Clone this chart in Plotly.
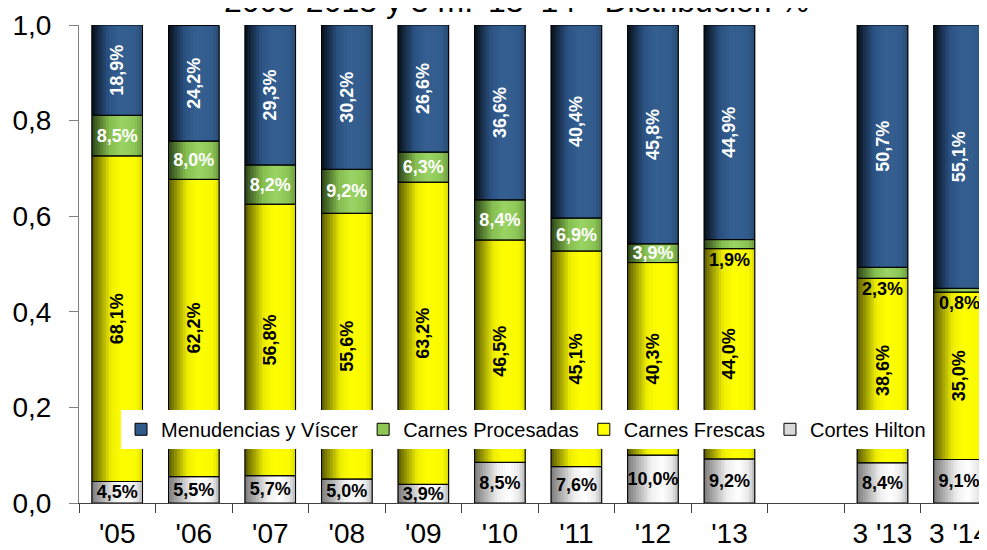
import plotly.graph_objects as go

# ---------------- data ----------------
categories = ["'05", "'06", "'07", "'08", "'09", "'10", "'11", "'12", "'13", "3 '13", "3 '14"]
axis_categories = ["'05", "'06", "'07", "'08", "'09", "'10", "'11", "'12", "'13", " ", "3 '13", "3 '14"]

cortes_hilton = [4.5, 5.5, 5.7, 5.0, 3.9, 8.5, 7.6, 10.0, 9.2, 8.4, 9.1]
carnes_frescas = [68.1, 62.2, 56.8, 55.6, 63.2, 46.5, 45.1, 40.3, 44.0, 38.6, 35.0]
carnes_procesadas = [8.5, 8.0, 8.2, 9.2, 6.3, 8.4, 6.9, 3.9, 1.9, 2.3, 0.8]
menudencias = [18.9, 24.2, 29.3, 30.2, 26.6, 36.6, 40.4, 45.8, 44.9, 50.7, 55.1]

title_text = "2005-2013 y 3 m. '13-'14 - Distribución %"

# ---------------- styling ----------------
FONT = "Liberation Sans, Arial, sans-serif"
BAR_W = 0.66
N_STRIPS = 18

series = [
    # name, values, base-color, gradient stops, text color, text angle
    ("Menudencias y Víscer", menudencias, "#2f5a8a",
     [(0.0, "#08101a"), (0.32, "#2b5283"), (0.55, "#345f90"), (0.85, "#325c8c"), (1.0, "#284a72")],
     "white", -90),
    ("Carnes Procesadas", carnes_procesadas, "#8dc655",
     [(0.0, "#2c4418"), (0.35, "#86be50"), (0.6, "#9ad465"), (0.85, "#8cc655"), (1.0, "#6f9c42")],
     "white", 0),
    ("Carnes Frescas", carnes_frescas, "#ffff00",
     [(0.0, "#5a5a00"), (0.38, "#f0f000"), (0.6, "#ffff00"), (0.88, "#fafa00"), (1.0, "#d8d800")],
     "black", -90),
    ("Cortes Hilton", cortes_hilton, "#d9d9d9",
     [(0.0, "#7c7c7c"), (0.45, "#eeeeee"), (0.68, "#ffffff"), (0.88, "#e8e8e8"), (1.0, "#b4b4b4")],
     "black", 0),
]

# stacking bases (bottom: Hilton, Frescas, Procesadas, Menudencias)
order_bottom_up = [cortes_hilton, carnes_frescas, carnes_procesadas, menudencias]
bases = {}
running = [0.0] * len(categories)
for vals in order_bottom_up:
    bases[id(vals)] = [r / 100 for r in running]
    running = [r + v for r, v in zip(running, vals)]


def hex2rgb(h):
    h = h.lstrip("#")
    return tuple(int(h[i:i + 2], 16) for i in (0, 2, 4))


def grad_color(stops, t):
    for (t0, c0), (t1, c1) in zip(stops[:-1], stops[1:]):
        if t0 <= t <= t1:
            f = 0 if t1 == t0 else (t - t0) / (t1 - t0)
            a, b = hex2rgb(c0), hex2rgb(c1)
            return "rgb(%d,%d,%d)" % tuple(round(x + (y - x) * f) for x, y in zip(a, b))
    return stops[-1][1]


def fmt(v):
    return f"{v:.1f}%".replace(".", ",")


fig = go.Figure()

# 1) solid base bars (provide legend entries)
for name, vals, color, stops, tcol, tang in series:
    fig.add_trace(go.Bar(
        x=categories, y=[v / 100 for v in vals], base=bases[id(vals)],
        width=BAR_W, name=name, marker=dict(color=color, line=dict(color="black", width=1)),
        showlegend=True, hoverinfo="skip"))

# 2) gradient strips
sw = BAR_W / N_STRIPS
for name, vals, color, stops, tcol, tang in series:
    for k in range(N_STRIPS):
        t = (k + 0.5) / N_STRIPS
        w = sw * (1.35 if k < N_STRIPS - 1 else 1.0)
        fig.add_trace(go.Bar(
            x=categories, y=[v / 100 for v in vals], base=bases[id(vals)],
            width=w, offset=-BAR_W / 2 + k * sw,
            marker=dict(color=grad_color(stops, t), line=dict(width=0)),
            showlegend=False, hoverinfo="skip"))

# 3) outline + labels
for name, vals, color, stops, tcol, tang in series:
    if name == "Carnes Procesadas":
        texts = [fmt(v) if v >= 3 else "" for v in vals]
    else:
        texts = [fmt(v) for v in vals]
    fig.add_trace(go.Bar(
        x=categories, y=[v / 100 for v in vals], base=bases[id(vals)],
        width=BAR_W, marker=dict(color="rgba(0,0,0,0)", line=dict(color="black", width=1)),
        text=texts, textposition="inside", insidetextanchor="middle", textangle=tang,
        constraintext="none",
        insidetextfont=dict(family=FONT, size=18, color=tcol, weight="bold"),
        showlegend=False, hoverinfo="skip"))

# small Procesadas labels placed just below their segment
proc_base = bases[id(carnes_procesadas)]
for c, v, b in zip(categories, carnes_procesadas, proc_base):
    if v < 3:
        fig.add_annotation(x=c, y=b, yanchor="top", yshift=1, text=fmt(v), showarrow=False,
                           font=dict(family=FONT, size=18, color="black", weight="bold"))

fig.add_annotation(xref="paper", yref="paper", x=0.478, y=1.0084, xanchor="center", yanchor="bottom",
                   text=title_text, showarrow=False,
                   font=dict(family=FONT, size=32, color="black"))

fig.update_layout(
    width=987, height=550,
    barmode="overlay",
    separators=",.",
    paper_bgcolor="white", plot_bgcolor="white",
    margin=dict(l=71, r=0, t=17, b=55, autoexpand=False),
    font=dict(family=FONT, color="black"),
    legend=dict(orientation="h", x=0.0459, y=0.195, xanchor="left", yanchor="top",
                bgcolor="white", font=dict(family=FONT, size=20, color="black"),
                traceorder="normal", itemclick=False),
    xaxis=dict(type="category", categoryorder="array", categoryarray=axis_categories,
               range=[-0.5, 11.47], showline=True, linecolor="#404040", linewidth=1,
               ticks="outside", tickson="boundaries", ticklen=9, tickcolor="#404040",
               tickfont=dict(family=FONT, size=28, color="black"), showgrid=False,
               automargin=False, ticklabelstandoff=5),
    yaxis=dict(range=[0, 1], tickvals=[0, 0.2, 0.4, 0.6, 0.8, 1.0], tickformat=".1f",
               showline=True, linecolor="#808080", linewidth=1, ticks="outside", ticklen=9,
               tickcolor="#808080", tickfont=dict(family=FONT, size=28, color="black"),
               showgrid=False, zeroline=False, ticklabelstandoff=12, automargin=False),
)

fig.write_html("out.html")
